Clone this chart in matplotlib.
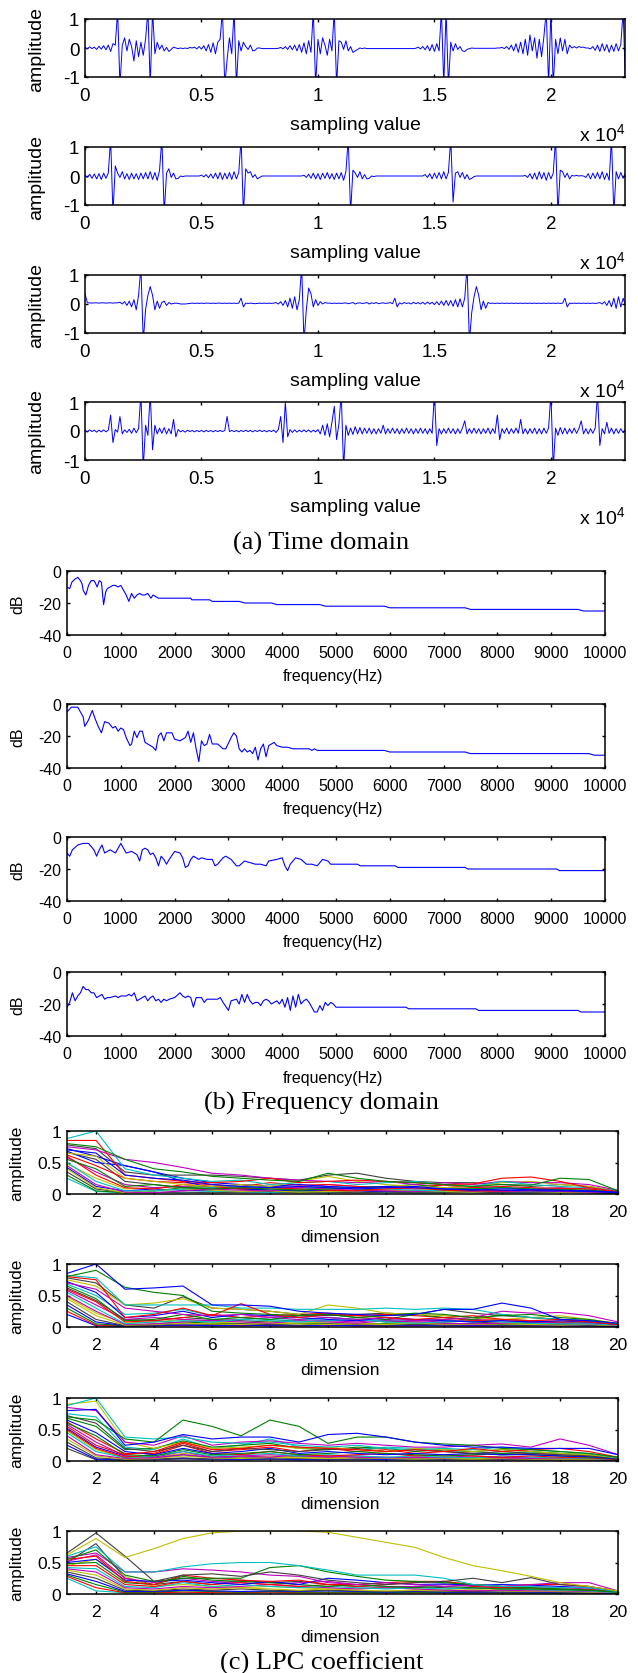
import numpy as np
import matplotlib.pyplot as plt

plt.rcParams['font.family'] = ['Liberation Sans', 'DejaVu Sans']
plt.rcParams['axes.unicode_minus'] = False
plt.rcParams['mathtext.fontset'] = 'custom'
plt.rcParams['mathtext.rm'] = 'Liberation Sans'

# ---------------------------------------------------------
# TIME DOMAIN (one value every 100 samples)
# ---------------------------------------------------------
SAMPLE_STEP = 100

sig_1 = [
    0.02, -0.03, 0.04, -0.02, 0.03, -0.05, 0.06, -0.04, 0.08, -0.06,
    0.1, -0.12, 0.15, 0.1, 1.3, -1.3, 0.1, 0.35, -0.1, 0.3,
    0.05, -0.45, 0.25, -0.3, 0.2, -0.25, 0.3, 1.3, -1.3, 1.3,
    -0.2, 0.2, -0.05, 0.1, -0.1, 0.02, -0.12, -0.05, 0.03, 0.0,
    -0.02, 0.0, -0.02, 0.0, -0.02, 0.02, 0.0, 0.03, -0.03, 0.05,
    -0.04, 0.08, -0.1, 0.12, -0.15, 0.18, -0.2, 0.2, 0.3, 1.3,
    -1.3, -0.4, 0.35, -0.2, 1.3, -1.3, 0.25, -0.1, 0.2, 0.05,
    -0.05, 0.1, -0.1, -0.08, 0.0, 0.0, -0.02, -0.02, -0.02, -0.02,
    -0.02, -0.02, -0.02, -0.01, 0.02, -0.03, 0.05, -0.05, 0.08, -0.06,
    0.1, -0.1, 0.12, -0.15, 0.18, -0.2, 0.25, -0.15, 1.3, -1.3,
    0.3, -0.2, 0.35, 0.1, -0.25, 0.3, -0.1, 1.3, -1.3, 0.25,
    0.2, -0.05, 0.25, -0.1, 0.05, -0.15, -0.1, -0.05, 0.0, -0.02,
    0.0, -0.02, -0.02, -0.02, -0.02, -0.02, -0.02, -0.02, -0.02, -0.02,
    -0.02, -0.02, -0.02, -0.02, -0.02, -0.02, -0.02, -0.02, -0.02, -0.02,
    -0.02, -0.02, -0.01, 0.03, -0.03, 0.05, -0.06, 0.08, -0.1, 0.12,
    -0.12, 0.15, -0.1, 1.3, -1.3, 1.3, -1.3, 0.2, -0.1, 0.15,
    -0.05, 0.05, -0.1, -0.12, -0.05, -0.02, 0.0, -0.01, -0.01, -0.01,
    -0.01, -0.01, -0.01, -0.01, -0.01, -0.01, -0.01, 0.0, 0.0, 0.02,
    -0.02, 0.05, -0.05, 0.1, -0.1, 0.15, -0.15, 0.2, -0.2, 0.3,
    -0.25, 0.45, -0.1, 0.35, -0.35, 0.3, -0.3, 0.4, 1.3, -1.3,
    1.3, -1.3, 0.3, -0.2, 0.35, -0.1, 0.3, -0.2, 0.1, 0.0,
    0.05, 0.0, 0.05, 0.02, 0.03, 0.0, 0.0, -0.03, 0.05, -0.08,
    0.1, -0.12, 0.15, -0.1, 0.12, -0.15, 0.1, -0.12, 0.15, -0.1,
    0.12, 1.3, -1.3,
]

sig_2 = [
    0.02, -0.05, 0.06, -0.08, 0.07, -0.1, 0.08, -0.12, 0.1, -0.08,
    0.1, 1.3, -1.3, 0.35, 0.1, -0.05, 0.15, -0.1, 0.08, -0.12,
    0.1, -0.1, 0.08, -0.12, 0.1, -0.1, 0.12, -0.1, 0.15, -0.12,
    0.12, -0.15, 0.2, 1.3, -1.3, 0.1, 0.25, -0.05, 0.1, -0.1,
    -0.08, 0.0, -0.02, 0.0, 0.0, 0.0, 0.0, 0.0, 0.0, 0.0,
    0.03, -0.03, 0.05, -0.06, 0.07, -0.08, 0.1, -0.1, 0.12, -0.12,
    0.1, -0.1, 0.12, -0.12, 0.15, -0.1, 0.12, 1.3, -1.3, 0.25,
    0.1, 0.15, -0.05, 0.05, -0.1, -0.05, 0.0, 0.0, 0.0, 0.0,
    0.0, 0.0, 0.0, 0.0, 0.0, 0.0, 0.0, 0.0, 0.0, 0.0,
    0.0, 0.0, 0.0, 0.0, 0.03, -0.05, 0.06, -0.08, 0.1, -0.1,
    0.08, -0.12, 0.1, -0.08, 0.12, -0.1, 0.08, -0.12, 0.1, -0.1,
    0.12, -0.15, 0.15, 1.3, -1.3, 0.2, 0.1, -0.05, 0.15, -0.1,
    0.05, -0.1, -0.08, 0.0, -0.02, 0.0, 0.0, 0.0, 0.0, 0.0,
    0.0, 0.0, 0.0, 0.0, 0.0, 0.0, 0.0, 0.0, 0.0, 0.0,
    0.0, 0.0, 0.0, 0.0, 0.0, 0.0, 0.05, -0.05, 0.08, -0.1,
    0.1, -0.08, 0.12, -0.1, 0.15, -0.1, 0.12, 1.3, -0.9, 0.1,
    0.15, -0.05, 0.12, -0.1, 0.05, -0.12, -0.08, -0.02, 0.0, 0.0,
    0.0, 0.0, 0.0, 0.0, 0.0, 0.0, 0.0, 0.0, 0.0, 0.0,
    0.0, 0.0, 0.0, 0.0, 0.0, 0.0, 0.0, 0.0, 0.0, 0.02,
    -0.05, 0.08, -0.1, 0.1, -0.12, 0.15, -0.1, 0.12, -0.15, 0.12,
    -0.1, 0.1, 1.3, -1.3, 0.2, 0.15, -0.05, 0.1, -0.1, 0.02,
    0.0, 0.02, 0.0, 0.01, 0.0, -0.05, 0.08, -0.1, 0.1, -0.08,
    0.12, -0.1, 0.15, -0.12, 0.1, -0.15, 1.3, -1.3, 0.15, -0.1,
    0.12, -0.08, 0.1,
]

sig_3 = [
    0.35, 0.04, 0.04, 0.03, 0.04, 0.04, 0.03, 0.04, 0.04, 0.03,
    0.04, 0.04, 0.03, 0.04, 0.04, 0.06, 0.0, 0.08, -0.05, 0.1,
    -0.1, 0.15, -0.2, 0.3, 1.3, -1.3, -0.2, 0.3, 0.6, 0.3,
    -0.2, 0.1, -0.15, 0.05, 0.1, -0.05, 0.05, 0.0, 0.02, 0.03,
    0.02, 0.0, 0.0, 0.0, 0.01, 0.02, 0.03, 0.02, 0.03, 0.02,
    0.03, 0.02, 0.03, 0.03, 0.02, 0.03, 0.02, 0.03, 0.03, 0.02,
    0.03, 0.02, 0.03, 0.02, 0.03, 0.02, 0.03, 0.2, -0.1, 0.03,
    0.02, 0.03, 0.02, 0.01, 0.02, 0.03, 0.02, 0.03, 0.02, 0.03,
    0.02, 0.03, 0.05, 0.0, 0.08, -0.05, 0.12, -0.1, 0.2, -0.15,
    0.25, -0.2, 0.15, 1.3, -1.3, -0.2, 0.55, 0.35, -0.1, 0.15,
    -0.05, 0.08, 0.0, 0.05, 0.03, 0.03, 0.02, 0.03, 0.02, 0.03,
    0.02, 0.03, 0.04, 0.01, 0.03, 0.05, 0.0, 0.03, 0.04, 0.02,
    0.03, 0.05, 0.0, 0.04, 0.02, 0.05, 0.01, 0.03, 0.04, 0.02,
    0.03, 0.05, 0.01, 0.2, -0.1, 0.04, 0.0, 0.05, 0.02, 0.04,
    0.0, 0.06, 0.01, 0.05, 0.0, 0.06, -0.01, 0.07, 0.0, 0.06,
    -0.02, 0.08, -0.03, 0.1, -0.05, 0.12, -0.05, 0.12, -0.08, 0.15,
    -0.1, 0.18, -0.1, 0.2, 1.3, -1.3, -0.3, 0.25, 0.6, 0.3,
    -0.2, 0.1, -0.15, 0.05, 0.02, 0.03, 0.02, 0.03, 0.02, 0.03,
    0.02, 0.03, 0.02, 0.03, 0.02, 0.03, 0.02, 0.03, 0.02, 0.03,
    0.02, 0.03, 0.02, 0.03, 0.02, 0.03, 0.02, 0.03, 0.02, 0.03,
    0.02, 0.03, 0.02, 0.03, 0.02, 0.03, 0.2, -0.1, 0.03, 0.02,
    0.03, 0.02, 0.03, 0.02, 0.03, 0.02, 0.03, 0.02, 0.03, 0.02,
    0.03, 0.05, 0.0, 0.08, -0.05, 0.12, -0.1, 0.2, -0.15, 0.25,
    -0.1, 0.2, -0.05,
]

sig_4 = [
    0.03, -0.03, 0.04, -0.02, 0.03, -0.04, 0.03, -0.03, 0.04, -0.03,
    0.03, 0.55, -0.4, 0.05, -0.04, 0.5, -0.1, 0.04, -0.05, 0.06,
    -0.08, 0.1, -0.06, 0.08, 1.3, -1.3, 0.2, -0.15, 1.3, -0.65,
    0.2, -0.1, 0.1, -0.08, 0.12, -0.1, 0.08, -0.1, 0.4, -0.2,
    0.05, -0.03, 0.02, -0.04, 0.03, -0.02, 0.02, -0.03, 0.02, -0.02,
    0.02, -0.03, 0.02, -0.02, 0.02, -0.03, 0.02, -0.02, 0.02, -0.02,
    0.02, 0.5, -0.02, 0.02, -0.02, 0.02, -0.03, 0.02, -0.02, 0.03,
    -0.02, 0.02, -0.03, 0.02, -0.02, 0.03, -0.02, 0.02, -0.03, 0.02,
    -0.02, 0.03, -0.05, 0.05, 0.5, -0.4, 1.0, -0.2, 0.05, -0.05,
    0.04, -0.04, 0.03, -0.03, 0.04, -0.03, 0.04, -0.04, 0.03, -0.03,
    0.05, -0.1, 0.2, -0.15, 0.25, -0.2, 0.3, 0.85, -0.3, 0.25,
    1.3, -1.3, 0.2, -0.15, 0.1, -0.12, 0.15, -0.1, 0.12, -0.1,
    0.1, -0.08, 0.1, -0.1, 0.08, -0.1, 0.08, -0.08, 0.2, -0.1,
    0.08, -0.08, 0.1, -0.08, 0.08, -0.1, 0.08, -0.08, 0.1, -0.08,
    0.08, -0.1, 0.08, -0.08, 0.1, -0.08, 0.08, -0.1, 0.08, -0.08,
    1.3, -0.5, 0.08, -0.1, 0.08, -0.08, 0.1, -0.08, 0.08, -0.1,
    0.08, -0.08, 0.1, 0.35, -0.1, 0.08, -0.08, 0.1, -0.08, 0.08,
    -0.1, 0.08, -0.08, 0.1, -0.1, 0.08, -0.08, 0.55, -0.3, 0.08,
    -0.08, 0.1, -0.1, 0.08, -0.08, 0.1, -0.08, 0.4, -0.1, 0.08,
    -0.1, 0.08, -0.08, 0.1, -0.1, 0.08, -0.1, 0.1, -0.08, 0.1,
    1.3, -1.3, 0.1, -0.15, 0.12, -0.1, 0.1, -0.1, 0.08, -0.08,
    0.1, -0.08, 0.08, 0.35, -0.1, 0.08, -0.1, 0.08, -0.08, 0.1,
    1.3, -0.5, 0.08, -0.1, 0.3, -0.08, 0.1, -0.1, 0.08, -0.08,
    0.08, -0.06, 0.05,
]

time_ticks = [0, 5000, 10000, 15000, 20000]
time_tick_labels = ['0', '0.5', '1', '1.5', '2']

# ---------------------------------------------------------
# FREQUENCY DOMAIN
# ---------------------------------------------------------
f1_hz = [0, 50, 90, 150, 200, 250, 280, 300, 350, 400,
         450, 500, 520, 560, 600, 640, 660, 680, 720, 750,
         800, 850, 900, 950, 1000, 1050, 1100, 1150, 1200, 1250,
         1300, 1350, 1400, 1450, 1500, 1560, 1600, 1650, 1700, 1750,
         2000, 2300, 2320, 2500, 2650, 2700, 3200, 3300, 3800, 3900,
         4700, 4800, 5900, 6000, 7400, 7500, 9500, 9600, 10000]
f1_db = [-10, -11, -7, -5, -4, -6, -8, -12, -15, -9,
         -6, -6, -7, -10, -6, -7, -14, -21, -13, -11,
         -10, -9, -9, -10, -9, -12, -15, -19, -14, -17,
         -15, -14, -15, -15, -14, -17, -15, -16, -17, -17,
         -17, -17, -18, -18, -18, -19, -19, -20, -20, -21,
         -21, -22, -22, -23, -23, -24, -24, -25, -25]

f2_hz = [0, 80, 200, 300, 330, 400, 470, 520, 580, 640,
         700, 780, 850, 900, 950, 1000, 1050, 1100, 1170, 1200,
         1250, 1300, 1350, 1400, 1450, 1500, 1600, 1650, 1700, 1750,
         1800, 1850, 1950, 2000, 2100, 2200, 2250, 2300, 2350, 2400,
         2450, 2500, 2550, 2600, 2650, 2700, 2800, 2900, 2950, 3050,
         3100, 3150, 3200, 3250, 3300, 3350, 3400, 3450, 3500, 3550,
         3600, 3650, 3700, 3750, 3800, 3850, 3900, 4000, 4100, 4200,
         4500, 4550, 4600, 4650, 4700, 5900, 6000, 7400, 7500, 9700,
         9800, 10000]
f2_db = [-5, -2, -2, -8, -14, -10, -4, -9, -14, -18,
         -11, -12, -15, -14, -17, -15, -16, -21, -26, -25,
         -17, -21, -17, -17, -24, -25, -27, -29, -20, -18,
         -23, -18, -18, -22, -23, -21, -17, -24, -18, -28,
         -36, -23, -26, -25, -19, -25, -25, -28, -28, -21,
         -18, -20, -28, -30, -28, -30, -29, -31, -27, -35,
         -28, -25, -33, -26, -25, -24, -26, -27, -27, -28,
         -28, -29, -28, -29, -29, -29, -30, -30, -31, -31,
         -32, -32]

f3_hz = [0, 50, 100, 200, 300, 400, 450, 500, 550, 600,
         650, 700, 800, 900, 1000, 1050, 1100, 1200, 1300, 1350,
         1400, 1450, 1500, 1550, 1600, 1650, 1700, 1750, 1800, 1850,
         1900, 2000, 2100, 2150, 2200, 2250, 2300, 2350, 2400, 2450,
         2500, 2600, 2700, 2750, 2800, 2900, 2950, 3050, 3150, 3200,
         3300, 3400, 3500, 3600, 3700, 3750, 3900, 4000, 4050, 4100,
         4150, 4250, 4350, 4450, 4550, 4650, 4750, 4850, 4900, 5400,
         5450, 6100, 6150, 7400, 7450, 9100, 9150, 10000]
f3_db = [-10, -12, -8, -5, -4, -4, -6, -8, -12, -8,
         -5, -10, -8, -10, -4, -7, -10, -9, -11, -15,
         -8, -7, -8, -11, -10, -13, -18, -12, -14, -17,
         -14, -9, -10, -13, -19, -18, -14, -12, -13, -14,
         -13, -14, -14, -18, -17, -13, -12, -14, -18, -18,
         -15, -16, -17, -17, -18, -15, -14, -13, -18, -21,
         -17, -13, -14, -17, -17, -18, -14, -15, -17, -17,
         -18, -18, -19, -19, -20, -20, -21, -21]

f4_hz = [0, 50, 100, 150, 200, 250, 300, 350, 400, 450,
         500, 550, 600, 650, 700, 750, 800, 900, 950, 1000,
         1100, 1150, 1200, 1250, 1300, 1350, 1400, 1450, 1500, 1550,
         1600, 1650, 1700, 1750, 1800, 1850, 1900, 2000, 2100, 2150,
         2200, 2250, 2300, 2350, 2400, 2500, 2550, 2600, 2700, 2800,
         2850, 2900, 3000, 3050, 3150, 3200, 3250, 3300, 3350, 3400,
         3450, 3500, 3550, 3600, 3650, 3700, 3750, 3800, 3850, 3900,
         3950, 4000, 4050, 4100, 4150, 4200, 4250, 4300, 4350, 4400,
         4450, 4500, 4550, 4600, 4650, 4700, 4750, 4800, 4850, 4900,
         4950, 5000, 5050, 6300, 6350, 7600, 7650, 9500, 9550, 10000]
f4_db = [-22, -19, -13, -18, -15, -13, -9, -11, -11, -13,
         -13, -16, -15, -14, -17, -16, -16, -15, -16, -15,
         -15, -14, -15, -13, -18, -17, -16, -15, -18, -16,
         -15, -18, -17, -19, -17, -18, -17, -16, -13, -15,
         -16, -15, -16, -22, -16, -16, -19, -17, -17, -17,
         -16, -19, -24, -18, -17, -20, -14, -19, -14, -18,
         -20, -19, -19, -21, -18, -17, -18, -20, -19, -18,
         -20, -17, -22, -16, -24, -15, -22, -14, -20, -18,
         -17, -19, -22, -25, -25, -21, -24, -19, -21, -19,
         -20, -22, -22, -22, -23, -23, -24, -24, -25, -25]

freq_ticks = [0, 1000, 2000, 3000, 4000, 5000, 6000, 7000, 8000, 9000, 10000]

# ---------------------------------------------------------
# LPC COEFFICIENTS (dimension 1..20, one row per frame)
# ---------------------------------------------------------
lpc_1 = [
    [.70, .65, .30, .25, .22, .15, .12, .10, .12, .10, .08, .10, .12, .08, .06, .08, .07, .06, .05, .03],
    [.80, .75, .55, .40, .35, .28, .25, .22, .20, .33, .25, .20, .18, .15, .12, .15, .14, .25, .23, .05],
    [.85, .85, .30, .25, .20, .18, .20, .25, .18, .20, .22, .20, .18, .15, .16, .25, .27, .20, .10, .04],
    [.88, 1.0, .40, .30, .25, .20, .22, .15, .18, .20, .15, .18, .20, .15, .12, .20, .15, .12, .10, .05],
    [.75, .70, .55, .50, .42, .33, .30, .25, .22, .20, .18, .20, .15, .18, .15, .20, .18, .18, .15, .06],
    [.65, .60, .25, .20, .15, .12, .15, .12, .20, .28, .20, .15, .12, .10, .12, .18, .20, .15, .12, .05],
    [.78, .72, .35, .30, .30, .30, .28, .25, .22, .30, .33, .25, .20, .18, .18, .15, .12, .15, .12, .04],
    [.68, .50, .45, .35, .25, .18, .15, .12, .15, .12, .10, .12, .10, .08, .07, .06, .05, .05, .04, .02],
    [.55, .40, .12, .15, .10, .08, .10, .08, .06, .08, .10, .12, .15, .10, .08, .10, .08, .07, .06, .03],
    [.60, .30, .10, .08, .15, .12, .08, .10, .08, .06, .05, .08, .10, .06, .05, .05, .06, .08, .05, .02],
    [.50, .20, .05, .05, .08, .10, .12, .10, .08, .12, .10, .08, .06, .05, .08, .10, .08, .06, .05, .03],
    [.45, .15, .03, .02, .05, .08, .06, .05, .10, .08, .06, .05, .04, .06, .05, .04, .05, .04, .03, .02],
    [.40, .10, .02, .05, .08, .06, .04, .05, .03, .04, .05, .06, .05, .04, .03, .05, .04, .03, .03, .02],
    [.35, .08, .02, .02, .03, .02, .03, .04, .02, .03, .02, .03, .02, .02, .03, .02, .02, .03, .02, .01],
    [.72, .60, .45, .35, .20, .10, .08, .06, .05, .06, .05, .04, .05, .04, .04, .03, .04, .03, .03, .01],
    [.30, .05, .02, .05, .10, .12, .08, .06, .05, .04, .06, .05, .04, .03, .04, .05, .06, .04, .03, .02],
    [.62, .45, .25, .20, .18, .15, .12, .18, .14, .15, .12, .10, .12, .14, .10, .12, .10, .09, .08, .03],
    [.25, .04, .02, .03, .02, .04, .03, .02, .03, .02, .03, .02, .02, .03, .02, .02, .03, .02, .02, .01],
    [.58, .35, .15, .10, .12, .15, .10, .12, .10, .15, .12, .10, .08, .10, .12, .10, .08, .10, .08, .03],
    [.48, .25, .08, .10, .12, .10, .15, .12, .10, .12, .08, .10, .08, .06, .08, .06, .05, .06, .05, .02],
    [.66, .55, .20, .15, .10, .08, .10, .06, .08, .10, .08, .06, .05, .08, .06, .05, .04, .05, .04, .02],
    [.42, .12, .05, .08, .06, .05, .04, .03, .05, .04, .05, .03, .04, .05, .03, .04, .03, .04, .03, .02],
]

lpc_2 = [
    [.85, 1.0, .60, .62, .65, .35, .35, .33, .25, .22, .20, .18, .20, .28, .28, .38, .30, .12, .10, .06],
    [.80, .90, .63, .55, .50, .25, .22, .20, .18, .20, .15, .18, .22, .20, .15, .18, .20, .15, .12, .05],
    [.80, .75, .15, .20, .30, .18, .37, .20, .15, .20, .18, .15, .12, .15, .18, .12, .10, .12, .08, .04],
    [.82, .78, .35, .35, .35, .35, .30, .30, .28, .28, .28, .30, .28, .30, .28, .20, .15, .12, .10, .05],
    [.70, .60, .30, .25, .20, .18, .20, .15, .18, .15, .12, .15, .10, .12, .15, .25, .22, .23, .18, .08],
    [.75, .65, .35, .38, .45, .30, .28, .25, .20, .35, .30, .22, .20, .18, .15, .12, .15, .18, .12, .06],
    [.78, .70, .35, .30, .48, .30, .28, .25, .20, .18, .20, .22, .20, .28, .22, .18, .15, .12, .10, .05],
    [.72, .55, .15, .18, .25, .15, .20, .18, .15, .12, .10, .15, .12, .10, .08, .10, .08, .10, .08, .04],
    [.65, .45, .10, .12, .20, .12, .15, .12, .18, .20, .15, .12, .20, .15, .12, .20, .15, .12, .10, .05],
    [.60, .40, .08, .10, .15, .20, .15, .18, .20, .22, .18, .20, .18, .15, .10, .12, .10, .08, .08, .04],
    [.55, .30, .05, .08, .10, .08, .12, .10, .08, .10, .12, .08, .06, .08, .10, .08, .06, .05, .05, .03],
    [.50, .25, .04, .05, .08, .10, .08, .06, .10, .08, .06, .10, .08, .06, .05, .06, .08, .06, .05, .03],
    [.45, .18, .03, .04, .06, .05, .04, .06, .05, .04, .05, .04, .06, .05, .04, .05, .04, .03, .04, .02],
    [.40, .12, .02, .03, .05, .04, .05, .04, .03, .05, .04, .03, .04, .03, .04, .03, .03, .04, .03, .02],
    [.35, .08, .02, .02, .03, .02, .03, .02, .02, .03, .02, .02, .03, .02, .02, .02, .03, .02, .02, .01],
    [.30, .05, .02, .05, .08, .06, .05, .04, .06, .05, .04, .05, .04, .06, .05, .04, .05, .04, .03, .02],
    [.25, .03, .02, .03, .02, .03, .02, .03, .02, .03, .02, .02, .02, .03, .02, .02, .02, .02, .02, .01],
    [.68, .50, .20, .22, .28, .18, .15, .12, .10, .15, .12, .10, .12, .10, .08, .12, .10, .08, .07, .04],
    [.58, .35, .12, .15, .12, .10, .12, .15, .12, .10, .08, .12, .10, .08, .12, .10, .08, .07, .06, .03],
    [.48, .22, .06, .08, .12, .08, .06, .08, .06, .08, .06, .05, .08, .06, .05, .06, .05, .05, .04, .02],
    [.62, .42, .12, .10, .15, .12, .10, .08, .12, .15, .12, .08, .10, .12, .08, .06, .08, .06, .05, .03],
    [.20, .02, .01, .02, .03, .02, .02, .03, .02, .02, .03, .02, .02, .02, .02, .02, .02, .02, .02, .01],
]

lpc_3 = [
    [.80, .82, .25, .30, .42, .35, .38, .38, .30, .42, .44, .38, .30, .25, .22, .22, .20, .20, .20, .10],
    [.70, .65, .35, .30, .65, .55, .40, .65, .55, .28, .38, .38, .30, .27, .25, .20, .18, .15, .12, .06],
    [.55, .25, .10, .15, .30, .18, .20, .25, .22, .20, .18, .15, .18, .15, .20, .15, .18, .20, .15, .06],
    [.88, 1.0, .38, .35, .38, .30, .28, .30, .25, .22, .25, .20, .18, .20, .18, .22, .18, .15, .12, .05],
    [.85, .80, .30, .25, .40, .25, .30, .32, .28, .25, .28, .25, .22, .22, .25, .27, .22, .35, .25, .10],
    [.90, .95, .30, .20, .30, .20, .22, .25, .20, .22, .18, .15, .20, .18, .15, .18, .15, .12, .10, .05],
    [.72, .60, .20, .15, .25, .15, .20, .18, .15, .18, .20, .15, .18, .15, .12, .15, .12, .10, .08, .04],
    [.65, .45, .15, .10, .20, .12, .15, .20, .12, .15, .12, .10, .12, .10, .12, .10, .10, .08, .07, .03],
    [.60, .40, .10, .08, .18, .10, .12, .15, .10, .12, .15, .12, .10, .08, .10, .12, .10, .08, .06, .03],
    [.50, .20, .06, .10, .25, .12, .10, .15, .10, .08, .10, .12, .08, .10, .08, .06, .08, .06, .05, .02],
    [.45, .15, .05, .08, .15, .08, .10, .12, .08, .10, .08, .06, .08, .06, .05, .08, .06, .05, .04, .02],
    [.40, .10, .04, .05, .10, .06, .08, .06, .10, .08, .06, .05, .06, .05, .06, .05, .04, .05, .04, .02],
    [.35, .08, .03, .04, .08, .05, .04, .06, .05, .04, .05, .04, .03, .04, .03, .04, .03, .03, .03, .02],
    [.30, .05, .02, .03, .05, .03, .04, .03, .04, .03, .03, .04, .03, .03, .02, .03, .02, .02, .02, .01],
    [.25, .03, .02, .03, .04, .03, .02, .03, .02, .02, .03, .02, .02, .02, .02, .02, .02, .02, .02, .01],
    [.68, .55, .18, .20, .32, .22, .25, .28, .20, .18, .22, .20, .15, .18, .15, .18, .15, .12, .10, .04],
    [.62, .35, .12, .12, .28, .15, .18, .22, .15, .20, .15, .18, .12, .15, .12, .10, .12, .10, .08, .03],
    [.75, .70, .22, .18, .35, .20, .25, .35, .22, .20, .18, .22, .20, .16, .15, .12, .14, .12, .10, .04],
    [.58, .30, .08, .06, .15, .06, .08, .10, .08, .06, .08, .06, .05, .06, .08, .06, .05, .04, .04, .02],
    [.48, .18, .05, .06, .12, .08, .06, .08, .06, .05, .06, .05, .06, .05, .04, .05, .04, .04, .03, .02],
    [.20, .02, .01, .02, .03, .02, .02, .03, .02, .02, .02, .02, .02, .02, .02, .02, .02, .02, .02, .01],
    [.52, .22, .08, .05, .10, .05, .06, .05, .08, .06, .05, .04, .05, .04, .05, .04, .04, .03, .03, .02],
]

lpc_4 = [
    [.62, .88, .58, .72, .88, .97, 1.0, 1.0, 1.0, .98, .90, .82, .74, .58, .45, .37, .28, .18, .12, .05],
    [.65, .97, .60, .20, .30, .32, .28, .35, .30, .22, .18, .15, .18, .20, .25, .18, .26, .15, .12, .05],
    [.60, .75, .35, .35, .43, .48, .50, .50, .45, .38, .30, .30, .30, .25, .15, .12, .12, .10, .10, .04],
    [.55, .70, .30, .20, .25, .25, .25, .42, .45, .35, .28, .22, .20, .18, .15, .12, .10, .08, .06, .03],
    [.58, .65, .35, .35, .40, .38, .35, .30, .28, .18, .15, .18, .15, .12, .14, .12, .15, .18, .18, .05],
    [.55, .60, .20, .15, .30, .25, .22, .20, .22, .15, .15, .18, .20, .20, .15, .12, .15, .15, .12, .04],
    [.50, .55, .22, .20, .22, .18, .15, .20, .15, .25, .22, .18, .15, .16, .14, .15, .14, .12, .10, .04],
    [.48, .50, .18, .15, .28, .22, .20, .18, .15, .12, .15, .12, .10, .12, .10, .08, .08, .07, .06, .03],
    [.45, .45, .15, .12, .20, .15, .18, .15, .12, .15, .12, .15, .18, .20, .12, .10, .10, .08, .07, .03],
    [.42, .40, .12, .10, .18, .12, .15, .12, .10, .12, .10, .08, .10, .08, .10, .08, .07, .06, .05, .02],
    [.40, .35, .10, .08, .12, .10, .12, .15, .12, .10, .08, .10, .08, .06, .05, .06, .05, .05, .04, .02],
    [.38, .30, .08, .06, .10, .08, .10, .08, .06, .08, .06, .05, .06, .05, .06, .05, .04, .04, .03, .02],
    [.35, .25, .06, .05, .08, .06, .08, .06, .05, .06, .05, .04, .05, .04, .04, .03, .04, .03, .03, .02],
    [.32, .20, .04, .04, .06, .05, .04, .05, .04, .05, .04, .03, .04, .03, .03, .03, .03, .02, .02, .01],
    [.30, .15, .03, .03, .05, .04, .03, .04, .03, .03, .03, .02, .03, .02, .02, .02, .02, .02, .02, .01],
    [.28, .10, .02, .02, .03, .02, .02, .03, .02, .02, .02, .02, .02, .02, .02, .02, .02, .02, .02, .01],
    [.25, .05, .02, .02, .02, .02, .02, .02, .02, .02, .02, .02, .02, .02, .02, .02, .01, .01, .01, .01],
    [.52, .62, .25, .18, .25, .20, .18, .15, .18, .20, .15, .12, .12, .15, .12, .10, .12, .10, .08, .03],
    [.45, .55, .28, .12, .15, .12, .10, .12, .10, .08, .08, .10, .08, .07, .06, .07, .06, .05, .05, .02],
    [.50, .80, .25, .15, .20, .15, .22, .18, .20, .15, .12, .10, .12, .10, .08, .10, .08, .07, .06, .03],
]
lpc_1_colors = ['b', 'g', 'r', 'c', 'm', 'y', 'k'] * 4
lpc_2_colors = ['b', 'g', 'r', 'c', 'm', 'y', 'k'] * 4
lpc_3_colors = ['b', 'g', 'r', 'c', 'm', 'y', 'k'] * 4
lpc_4_colors = ['y', 'k', 'c', 'g', 'm', 'r', 'b', 'g', 'r', 'c', 'm', 'y', 'k',
                'b', 'g', 'r', 'c', 'm', 'y', 'k']

dimension_ticks = [2, 4, 6, 8, 10, 12, 14, 16, 18, 20]

# matlab's old default colour order
MATLAB = {'b': (0, 0, 1), 'g': (0, 0.5, 0), 'r': (1, 0, 0), 'c': (0, 0.75, 0.75),
          'm': (0.75, 0, 0.75), 'y': (0.75, 0.75, 0), 'k': (0.25, 0.25, 0.25)}

# ---------------------------------------------------------
# FIGURA
# ---------------------------------------------------------
W, H = 638, 1674
fig = plt.figure(figsize=(W / 100, H / 100), dpi=100)


def fx(px):
    return px / W


def fy(py):
    return 1 - py / H


def nuevo_eje(left, top, right, bottom, labelsize):
    ax = fig.add_axes([fx(left), fy(bottom), (right - left) / W, (bottom - top) / H])
    for s in ax.spines.values():
        s.set_linewidth(1.1)
    ax.tick_params(direction='in', top=True, right=True, length=2.5, width=1,
                   labelsize=labelsize)
    ax.tick_params(axis='x', pad=7.5)
    ax.tick_params(axis='y', pad=4)
    return ax


# --- (a) time domain ---
senales = [sig_1, sig_2, sig_3, sig_4]
tops_t = [20, 148, 276, 403]
for sig, top in zip(senales, tops_t):
    bottom = top + 58
    ax = nuevo_eje(85, top, 625, bottom, 13.5)
    t = np.arange(len(sig)) * SAMPLE_STEP
    ax.plot(t, sig, color=(0, 0, 1), lw=0.7)
    ax.set_xlim(0, 23180)
    ax.set_ylim(-1, 1)
    ax.set_yticks([-1, 0, 1])
    ax.set_xticks(time_ticks)
    ax.set_xticklabels(time_tick_labels)
    fig.text(fx(37), fy(top + 29), 'amplitude', rotation=90, ha='center', va='center', fontsize=14)
    fig.text(fx(355), fy(bottom + 47), 'sampling value', ha='center', va='center', fontsize=14)
    fig.text(fx(625), fy(bottom + 57), 'x 10$^{4}$', ha='right', va='center', fontsize=14)

fig.text(fx(321), fy(543), '(a) Time domain', ha='center', va='center',
         fontsize=19, family='Liberation Serif')

# --- (b) frequency domain ---
espectros = [(f1_hz, f1_db), (f2_hz, f2_db), (f3_hz, f3_db), (f4_hz, f4_db)]
tops_f = [572, 705, 838, 973]
for (hz, db), top in zip(espectros, tops_f):
    bottom = top + 64
    ax = nuevo_eje(67, top, 605, bottom, 11.5)
    ax.plot(hz, db, color=(0, 0, 1), lw=0.8)
    ax.set_xlim(0, 10000)
    ax.set_ylim(-40, 0)
    ax.set_yticks([-40, -20, 0])
    ax.set_xticks(freq_ticks)
    fig.text(fx(18), fy(top + 32), 'dB', rotation=90, ha='center', va='center', fontsize=11.5)
    fig.text(fx(333), fy(bottom + 41), 'frequency(Hz)', ha='center', va='center', fontsize=11.5)

fig.text(fx(321), fy(1103), '(b) Frequency domain', ha='center', va='center',
         fontsize=19, family='Liberation Serif')

# --- (c) LPC ---
paneles_lpc = [(lpc_1, lpc_1_colors), (lpc_2, lpc_2_colors),
               (lpc_3, lpc_3_colors), (lpc_4, lpc_4_colors)]
tops_l = [1132, 1265, 1399, 1532]
dims = np.arange(1, 21)
for (lineas, colores), top in zip(paneles_lpc, tops_l):
    bottom = top + 63
    ax = nuevo_eje(67, top, 618, bottom, 12.5)
    # draw the outlier rows last so they sit on top like in matlab
    for fila, c in reversed(list(zip(lineas, colores))):
        ax.plot(dims, fila, color=MATLAB[c], lw=0.8)
    ax.set_xlim(1, 20)
    ax.set_ylim(0, 1)
    ax.set_yticks([0, 0.5, 1])
    ax.set_yticklabels(['0', '0.5', '1'])
    ax.set_xticks(dimension_ticks)
    fig.text(fx(17), fy(top + 31), 'amplitude', rotation=90, ha='center', va='center', fontsize=12.5)
    fig.text(fx(340), fy(bottom + 43), 'dimension', ha='center', va='center', fontsize=12.5)

fig.text(fx(322), fy(1663), '(c) LPC coefficient', ha='center', va='center',
         fontsize=19, family='Liberation Serif')

plt.savefig('out.png', dpi=100)
